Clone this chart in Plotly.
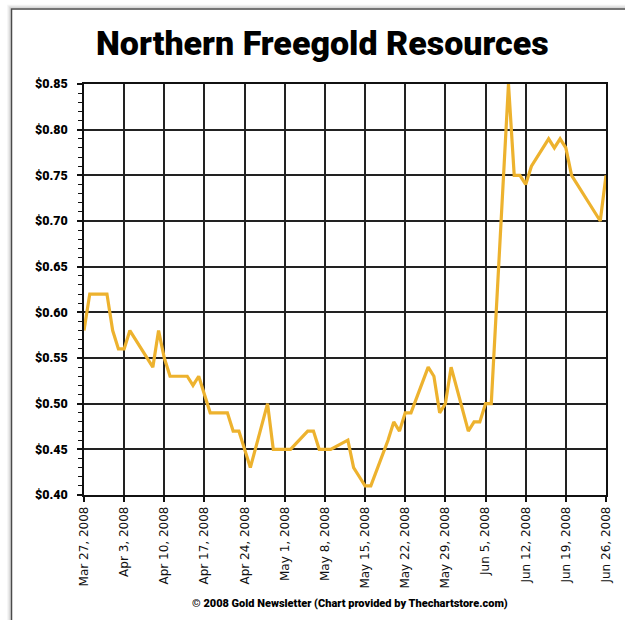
import plotly.graph_objects as go

dates = [
    "2008-03-27", "2008-03-28", "2008-03-31", "2008-04-01", "2008-04-02", "2008-04-03",
    "2008-04-04", "2008-04-08", "2008-04-09", "2008-04-10", "2008-04-11", "2008-04-14",
    "2008-04-15", "2008-04-16", "2008-04-17", "2008-04-18", "2008-04-21", "2008-04-22",
    "2008-04-23", "2008-04-24", "2008-04-25", "2008-04-28", "2008-04-29", "2008-04-30",
    "2008-05-01", "2008-05-02", "2008-05-05", "2008-05-06", "2008-05-07", "2008-05-08",
    "2008-05-09", "2008-05-12", "2008-05-13", "2008-05-14", "2008-05-15", "2008-05-16",
    "2008-05-19", "2008-05-20", "2008-05-21", "2008-05-22", "2008-05-23", "2008-05-26",
    "2008-05-27", "2008-05-28", "2008-05-29", "2008-05-30", "2008-06-02", "2008-06-03",
    "2008-06-04", "2008-06-05", "2008-06-06", "2008-06-09", "2008-06-10", "2008-06-11",
    "2008-06-12", "2008-06-13", "2008-06-16", "2008-06-17", "2008-06-18", "2008-06-19",
    "2008-06-20", "2008-06-23", "2008-06-24", "2008-06-25", "2008-06-26",
]
prices = [
    0.58, 0.62, 0.62, 0.58, 0.56, 0.56,
    0.58, 0.54, 0.58, 0.55, 0.53, 0.53,
    0.52, 0.53, 0.51, 0.49, 0.49, 0.47,
    0.47, 0.45, 0.43, 0.50, 0.45, 0.45,
    0.45, 0.45, 0.47, 0.47, 0.45, 0.45,
    0.45, 0.46, 0.43, 0.42, 0.41, 0.41,
    0.46, 0.48, 0.47, 0.49, 0.49, 0.54,
    0.53, 0.49, 0.50, 0.54, 0.47, 0.48,
    0.48, 0.50, 0.50, 0.85, 0.75, 0.75,
    0.74, 0.76, 0.79, 0.78, 0.79, 0.78,
    0.75, 0.72, 0.71, 0.70, 0.75,
]

tick_dates = [
    "2008-03-27", "2008-04-03", "2008-04-10", "2008-04-17", "2008-04-24", "2008-05-01",
    "2008-05-08", "2008-05-15", "2008-05-22", "2008-05-29", "2008-06-05", "2008-06-12",
    "2008-06-19", "2008-06-26",
]
tick_labels = [
    "Mar 27, 2008", "Apr 3, 2008", "Apr 10, 2008", "Apr 17, 2008", "Apr 24, 2008",
    "May 1, 2008", "May 8, 2008", "May 15, 2008", "May 22, 2008", "May 29, 2008",
    "Jun 5, 2008", "Jun 12, 2008", "Jun 19, 2008", "Jun 26, 2008",
]
y_ticks = [0.40, 0.45, 0.50, 0.55, 0.60, 0.65, 0.70, 0.75, 0.80, 0.85]
y_labels = ["$%.2f" % v for v in y_ticks]

title_text = "Northern Freegold Resources"
footer_text = "\u00a9 2008 Gold Newsletter (Chart provided by Thechartstore.com)"

W, H = 625, 620
L, R, T, B = 84, 19, 84, 125
pw, ph = W - L - R, H - T - B


def px(x):
    return (x - L) / pw


def py(y):
    return (H - B - y) / ph


fig = go.Figure()
fig.add_trace(go.Scatter(
    x=dates, y=prices, mode="lines",
    line=dict(color="#EDB22E", width=3.2),
    hoverinfo="x+y",
))

grid = "#222222"
fig.update_xaxes(
    type="date",
    range=["2008-03-27", "2008-06-26"],
    tickmode="array", tickvals=tick_dates, ticktext=tick_labels,
    tickangle=-90,
    tickfont=dict(family="DejaVu Sans", size=12, color="#111"),
    showgrid=True, gridcolor=grid, gridwidth=1.5,
    showline=True, linecolor="#111", linewidth=1.5, mirror=True,
    ticks="outside", ticklen=5, tickcolor="#111", tickwidth=1.5,
    zeroline=False,
)
fig.update_yaxes(
    range=[0.40, 0.85],
    tickmode="array", tickvals=y_ticks, ticktext=y_labels,
    tickfont=dict(family="Roboto", size=12.5, color="#000", weight=900),
    ticklabelstandoff=7,
    showgrid=True, gridcolor=grid, gridwidth=1.5,
    showline=True, linecolor="#111", linewidth=1.5, mirror=True,
    ticks="outside", ticklen=5, tickcolor="#111", tickwidth=1.5,
    minor=dict(dtick=0.01, tick0=0.40, ticks="outside", ticklen=4,
               tickcolor="#111", tickwidth=1, showgrid=False),
    zeroline=False,
)

shapes = []
# soft shadow around frame
for i, c in enumerate(["#f4f4f4", "#e8e8e8", "#d8d8d8"]):
    off = 3 - i
    shapes.append(dict(type="rect", xref="paper", yref="paper",
                       x0=px(11 - off), x1=px(700), y0=py(700), y1=py(8.5 - off),
                       line=dict(color=c, width=1.5), layer="below"))
shapes.append(dict(type="rect", xref="paper", yref="paper",
                   x0=px(11.5), x1=px(700), y0=py(700), y1=py(9),
                   line=dict(color="#4a4a4a", width=1.5), layer="below"))

fig.update_layout(
    width=W, height=H,
    margin=dict(l=L, r=R, t=T, b=B),
    paper_bgcolor="white", plot_bgcolor="white",
    showlegend=False,
    shapes=shapes,
    annotations=[
        dict(text=title_text, xref="paper", yref="paper", x=px(322), y=py(43),
             xanchor="center", yanchor="middle", showarrow=False,
             font=dict(family="Roboto", size=34, color="#000", weight=900)),
        dict(text=footer_text, xref="paper", yref="paper", x=px(350), y=py(603),
             xanchor="center", yanchor="middle", showarrow=False,
             font=dict(family="Roboto", size=11, color="#000", weight=900)),
    ],
)

fig.write_html("out.html")
